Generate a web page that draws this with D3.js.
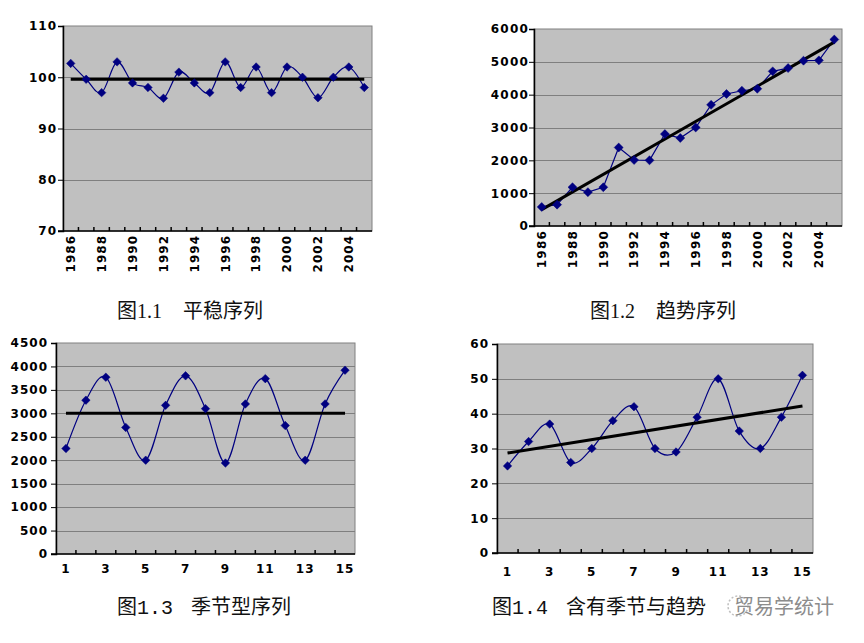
<!DOCTYPE html>
<html>
<head>
<meta charset="utf-8">
<script src="https://cdn.jsdelivr.net/npm/d3@7"></script>
<style>
  html, body { margin: 0; padding: 0; background: #ffffff; }
  svg { display: block; }
  .tick-label { font-family: "DejaVu Sans", sans-serif; font-weight: bold; font-size: 12px; fill: #000; letter-spacing: 1px; }
  .caption { font-size: 20px; fill: #111; }
</style>
</head>
<body>
<svg id="chart" width="864" height="643"></svg>
<script>
// ---------------- DATA ----------------
const years = ["1986","1987","1988","1989","1990","1991","1992","1993","1994","1995",
               "1996","1997","1998","1999","2000","2001","2002","2003","2004","2005"];
const yearTickLabels = ["1986","1988","1990","1992","1994","1996","1998","2000","2002","2004"];

// Fig 1.1 stationary series
const stableValues = [102.7, 99.6, 97, 103, 98.9, 98, 95.9, 101, 98.9, 97,
                      103, 98, 102, 97, 102, 100, 96, 100, 102, 98];
const stableMean = 99.6;
const stableTicks = [70, 80, 90, 100, 110];

// Fig 1.2 trend series
const trendValues = [580, 650, 1180, 1030, 1180, 2390, 2010, 2000, 2800, 2680,
                     3000, 3690, 4020, 4120, 4180, 4710, 4810, 5035, 5045, 5680];
const trendLineEnds = [500, 5600];
const trendTicks = [0, 1000, 2000, 3000, 4000, 5000, 6000];

// Fig 1.3 seasonal series
const periods = ["1","2","3","4","5","6","7","8","9","10","11","12","13","14","15"];
const periodTickLabels = ["1","3","5","7","9","11","13","15"];
const seasonalValues = [2250, 3280, 3770, 2700, 2000, 3170, 3800, 3100, 1940, 3200,
                        3740, 2740, 2000, 3200, 3920];
const seasonalMean = 3000;
const seasonalTicks = [0, 500, 1000, 1500, 2000, 2500, 3000, 3500, 4000, 4500];

// Fig 1.4 seasonal + trend series
const mixedValues = [25, 32, 37, 26, 30, 38, 42, 30, 29, 39, 50, 35, 30, 39, 51];
const mixedTrendEnds = [28.7, 42.2];
const mixedTicks = [0, 10, 20, 30, 40, 50, 60];

const captions = [
  { num: "图1.1", text: "平稳序列" },
  { num: "图1.2", text: "趋势序列" },
  { num: "图1.3", text: "季节型序列" },
  { num: "图1.4", text: "含有季节与趋势" }
];
const watermarkText = "贸易学统计";

// ---------------- DRAW ----------------
const svg = d3.select("#chart");
const NAVY = "#000080";

function panel(opt) {
  const g = svg.append("g");
  const x = d3.scaleBand().domain(opt.cats).range([opt.x0, opt.x1]).padding(0);
  const y = d3.scaleLinear().domain([opt.ticks[0], opt.ticks[opt.ticks.length - 1]]).range([opt.y1, opt.y0]);
  const cx = c => x(c) + x.bandwidth() / 2;

  // plot background
  g.append("rect").attr("x", opt.x0).attr("y", opt.y0)
    .attr("width", opt.x1 - opt.x0).attr("height", opt.y1 - opt.y0)
    .attr("fill", "#c0c0c0").attr("stroke", "#808080").attr("stroke-width", 1);

  // gridlines
  g.selectAll(".grid").data(opt.ticks.slice(1, -1)).join("line")
    .attr("x1", opt.x0).attr("x2", opt.x1)
    .attr("y1", d => Math.round(y(d)) + 0.5).attr("y2", d => Math.round(y(d)) + 0.5)
    .attr("stroke", "#7f7f7f").attr("stroke-width", 1);

  // y axis
  const yAxis = d3.axisLeft(y).tickValues(opt.ticks).tickFormat(d3.format("d")).tickSize(5).tickPadding(opt.yPad);
  const ya = g.append("g").attr("transform", `translate(${opt.x0},0)`).call(yAxis);
  ya.select(".domain").attr("stroke", "#000").attr("stroke-width", 1.5);
  ya.selectAll(".tick line").attr("stroke", "#000");
  ya.selectAll(".tick text").attr("class", "tick-label").attr("font-size", null).attr("font-family", null)
    .style("letter-spacing", opt.ls + "px");

  // x axis line
  g.append("line").attr("x1", opt.x0 - 5).attr("x2", opt.x1)
    .attr("y1", opt.y1).attr("y2", opt.y1).attr("stroke", "#000").attr("stroke-width", 1.5);
  // category boundary ticks
  g.selectAll(".xtick").data(opt.cats.slice(1)).join("line")
    .attr("x1", d => x(d)).attr("x2", d => x(d))
    .attr("y1", opt.y1 - 4).attr("y2", opt.y1)
    .attr("stroke", "#000").attr("stroke-width", 1.5);

  // x labels
  if (opt.rotate) {
    g.selectAll(".xlab").data(opt.tickLabels).join("text")
      .attr("class", "tick-label")
      .attr("transform", d => `translate(${cx(d)},${opt.y1 + 4}) rotate(-90)`)
      .attr("text-anchor", "end").attr("dy", "0.36em")
      .style("letter-spacing", opt.ls + "px")
      .text(d => d);
  } else {
    g.selectAll(".xlab").data(opt.tickLabels).join("text")
      .attr("class", "tick-label")
      .attr("x", d => cx(d)).attr("y", opt.y1 + opt.xLabOff)
      .attr("text-anchor", "middle")
      .text(d => d);
  }

  // data line
  const line = d3.line().x((d, i) => cx(opt.cats[i])).y(d => y(d))
    .curve(opt.smooth ? d3.curveCardinal.tension(0) : d3.curveLinear);
  g.append("path").datum(opt.values).attr("d", line)
    .attr("fill", "none").attr("stroke", NAVY).attr("stroke-width", 1.2);

  // reference / trend line
  const first = opt.cats[0], last = opt.cats[opt.cats.length - 1];
  g.append("line")
    .attr("x1", cx(first)).attr("x2", cx(last))
    .attr("y1", y(opt.refEnds[0])).attr("y2", y(opt.refEnds[1]))
    .attr("stroke", "#000").attr("stroke-width", 3);

  // markers (square rotated 45deg -> even diamond)
  const sym = d3.symbol().type(d3.symbolSquare).size(opt.markerSize);
  g.selectAll(".mk").data(opt.values).join("path")
    .attr("d", sym)
    .attr("transform", (d, i) => `translate(${cx(opt.cats[i])},${y(d)}) rotate(45)`)
    .attr("fill", NAVY).attr("stroke", NAVY).attr("stroke-width", 0.5);
}

panel({ cats: years, tickLabels: yearTickLabels, values: stableValues, ticks: stableTicks,
        refEnds: [stableMean, stableMean], x0: 63, x1: 372, y0: 26, y1: 231,
        smooth: true, rotate: true, yPad: 1, ls: 1, markerSize: 36 });

panel({ cats: years, tickLabels: yearTickLabels, values: trendValues, ticks: trendTicks,
        refEnds: trendLineEnds, x0: 534, x1: 842, y0: 29, y1: 226,
        smooth: false, rotate: true, yPad: 0, ls: 1.2, markerSize: 40 });

panel({ cats: periods, tickLabels: periodTickLabels, values: seasonalValues, ticks: seasonalTicks,
        refEnds: [seasonalMean, seasonalMean], x0: 56, x1: 355, y0: 343, y1: 554,
        smooth: true, rotate: false, xLabOff: 19, yPad: 3, ls: 1, markerSize: 36 });

panel({ cats: periods, tickLabels: periodTickLabels, values: mixedValues, ticks: mixedTicks,
        refEnds: mixedTrendEnds, x0: 497, x1: 813, y0: 344, y1: 553,
        smooth: true, rotate: false, xLabOff: 23, yPad: 3, ls: 1, markerSize: 36 });

// captions
const capPos = [
  { x: 117, y: 318, mono: false, gap: 21 },
  { x: 590, y: 318, mono: false, gap: 21 },
  { x: 117, y: 614, mono: true, gap: 18 },
  { x: 492, y: 614, mono: true, gap: 18 }
];
captions.forEach((c, i) => {
  const p = capPos[i];
  const t = svg.append("text").attr("class", "caption")
    .attr("x", p.x).attr("y", p.y)
    .style("font-family", (p.mono ? "'Liberation Mono'" : "'Liberation Serif'") + ", 'Noto Sans CJK SC', sans-serif");
  t.append("tspan").text(c.num);
  t.append("tspan").attr("dx", p.gap).text(c.text);
});

// watermark over the last caption
const wm = svg.append("g").attr("opacity", 0.75);
wm.append("circle").attr("cx", 738).attr("cy", 606).attr("r", 10)
  .attr("fill", "none").attr("stroke", "#aaa").attr("stroke-width", 1.5).attr("stroke-dasharray", "2,2");
wm.append("text").attr("x", 734).attr("y", 614).attr("class", "caption")
  .style("font-family", "'Noto Sans CJK SC', sans-serif").style("fill", "#666")
  .text(watermarkText);
</script>
</body>
</html>
